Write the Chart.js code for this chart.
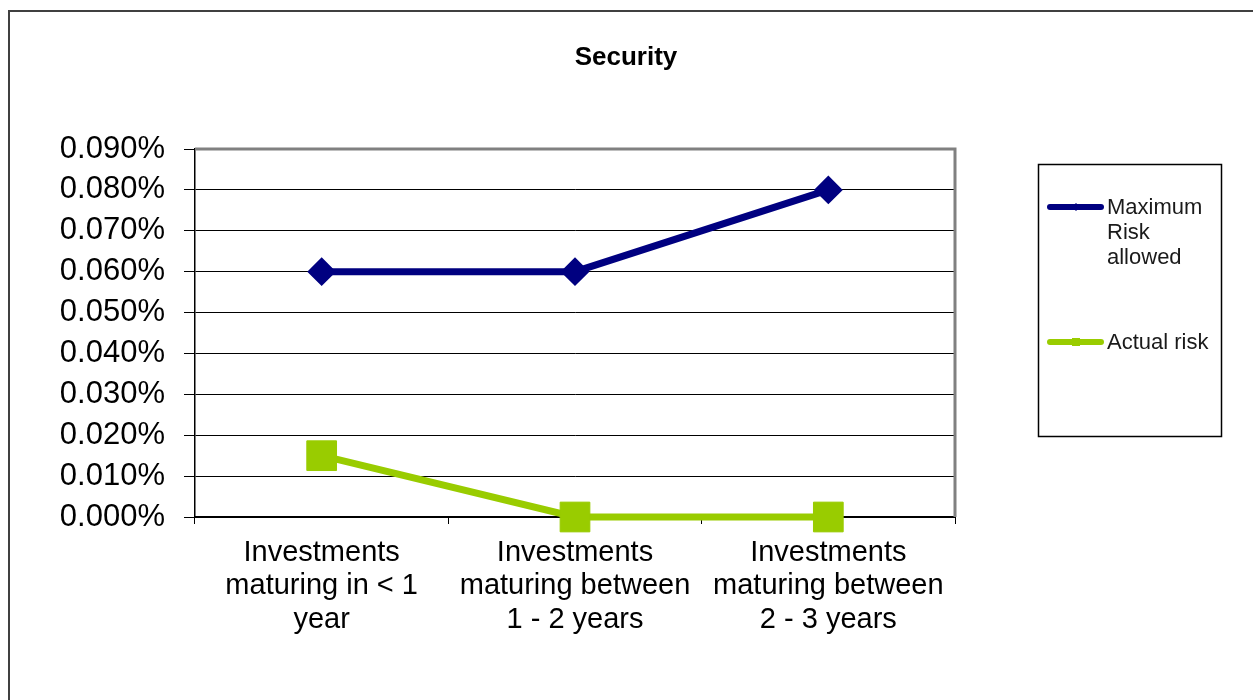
<!DOCTYPE html>
<html>
<head>
<meta charset="utf-8">
<script src="https://cdn.jsdelivr.net/npm/chart.js@4"></script>
<style>
html,body{margin:0;padding:0;background:#fff;}
#wrap{position:relative;width:1253px;height:700px;}
canvas{display:block;}
</style>
</head>
<body>
<div id="wrap"><canvas id="c" width="1253" height="700"></canvas></div>
<script>
const chartTitle = "Security";
const categories = [
  ["Investments", "maturing in < 1", "year"],
  ["Investments", "maturing between", "1 - 2 years"],
  ["Investments", "maturing between", "2 - 3 years"]
];
const seriesNames = ["Maximum Risk allowed", "Actual risk"];
const maxRisk = [0.060, 0.060, 0.080];
const actualRisk = [0.015, 0.000, 0.000];
const yTicks = [0, 0.01, 0.02, 0.03, 0.04, 0.05, 0.06, 0.07, 0.08, 0.09];

const FONT = "'Liberation Sans', Arial, sans-serif";
const NAVY = "#000080";
const GREEN = "#99CC00";

const decorPlugin = {
  id: "decor",
  beforeDatasetsDraw(chart) {
    const ctx = chart.ctx, a = chart.chartArea;
    ctx.save();
    ctx.strokeStyle = "#808080";
    ctx.lineWidth = 3;
    ctx.beginPath();
    ctx.moveTo(a.left, a.top);
    ctx.lineTo(a.right, a.top);
    ctx.lineTo(a.right, a.bottom);
    ctx.stroke();
    ctx.restore();
  },
  afterDraw(chart) {
    const ctx = chart.ctx;
    ctx.save();
    ctx.strokeStyle = "#404040";
    ctx.lineWidth = 2;
    ctx.beginPath();
    ctx.moveTo(9, 700);
    ctx.lineTo(9, 11);
    ctx.lineTo(1253, 11);
    ctx.stroke();
    ctx.fillStyle = "#000";
    ctx.font = "bold 26px " + FONT;
    ctx.textAlign = "center";
    ctx.textBaseline = "middle";
    ctx.fillText(chartTitle, 626, 58);
    ctx.strokeStyle = "#000";
    ctx.lineWidth = 1.5;
    ctx.strokeRect(1038.5, 164.5, 183, 272);
    const entryY = [207, 342];
    ctx.font = "22px " + FONT;
    ctx.textAlign = "left";
    chart.data.datasets.forEach((ds, i) => {
      const y = entryY[i];
      ctx.strokeStyle = ds.borderColor;
      ctx.lineWidth = 6;
      ctx.lineCap = "round";
      ctx.beginPath();
      ctx.moveTo(1050, y);
      ctx.lineTo(1101, y);
      ctx.stroke();
      ctx.fillStyle = ds.borderColor;
      if (ds.pointStyle === "rect") {
        ctx.fillRect(1072, y - 4, 8, 8);
      } else {
        ctx.beginPath();
        ctx.moveTo(1076, y - 4); ctx.lineTo(1080, y); ctx.lineTo(1076, y + 4); ctx.lineTo(1072, y);
        ctx.closePath(); ctx.fill();
      }
      const words = ds.label.split(" ");
      const lines = [];
      let cur = "";
      words.forEach(w => {
        const t = cur ? cur + " " + w : w;
        if (ctx.measureText(t).width > 110 && cur) { lines.push(cur); cur = w; } else cur = t;
      });
      if (cur) lines.push(cur);
      ctx.fillStyle = "#1a1a1a";
      lines.forEach((ln, k) => ctx.fillText(ln, 1107, y + 1 + k * 25));
    });
    ctx.restore();
  }
};

new Chart(document.getElementById("c"), {
  type: "line",
  data: {
    labels: categories,
    datasets: [
      {
        label: seriesNames[0],
        data: maxRisk,
        borderColor: NAVY,
        backgroundColor: NAVY,
        borderWidth: 7,
        pointStyle: "rectRot",
        pointRadius: 13,
        pointHoverRadius: 13,
        pointBorderWidth: 2,
        tension: 0,
        fill: false
      },
      {
        label: seriesNames[1],
        data: actualRisk,
        borderColor: GREEN,
        backgroundColor: GREEN,
        borderWidth: 7,
        pointStyle: "rect",
        pointRadius: 21,
        pointHoverRadius: 21,
        pointBorderWidth: 1,
        tension: 0,
        fill: false
      }
    ]
  },
  options: {
    responsive: false,
    animation: false,
    clip: false,
    layout: { padding: { left: 0, top: 149, right: 298, bottom: 0 } },
    plugins: {
      legend: { display: false },
      title: { display: false },
      tooltip: { enabled: false }
    },
    scales: {
      x: {
        type: "category",
        offset: true,
        afterFit(s) { s.height = 183; },
        grid: {
          offset: true,
          drawOnChartArea: false,
          drawTicks: true,
          tickLength: 7,
          color: "#000",
          lineWidth: 1
        },
        border: { display: true, color: "#000", width: 2 },
        ticks: {
          color: "#000",
          padding: 12,
          maxRotation: 0,
          autoSkip: false,
          font: { family: FONT, size: 29, lineHeight: 1.155 }
        }
      },
      y: {
        min: 0,
        max: 0.09,
        afterFit(s) { s.width = 195; },
        afterBuildTicks(s) { s.ticks = yTicks.map(v => ({ value: v })); },
        grid: {
          color: "#000",
          lineWidth: 1,
          drawTicks: true,
          tickLength: 11
        },
        border: { display: true, color: "#000", width: 1.5 },
        ticks: {
          color: "#000",
          padding: 19,
          font: { family: FONT, size: 31 },
          callback: v => Number(v).toFixed(3) + "%"
        }
      }
    }
  },
  plugins: [decorPlugin]
});
</script>
</body>
</html>
